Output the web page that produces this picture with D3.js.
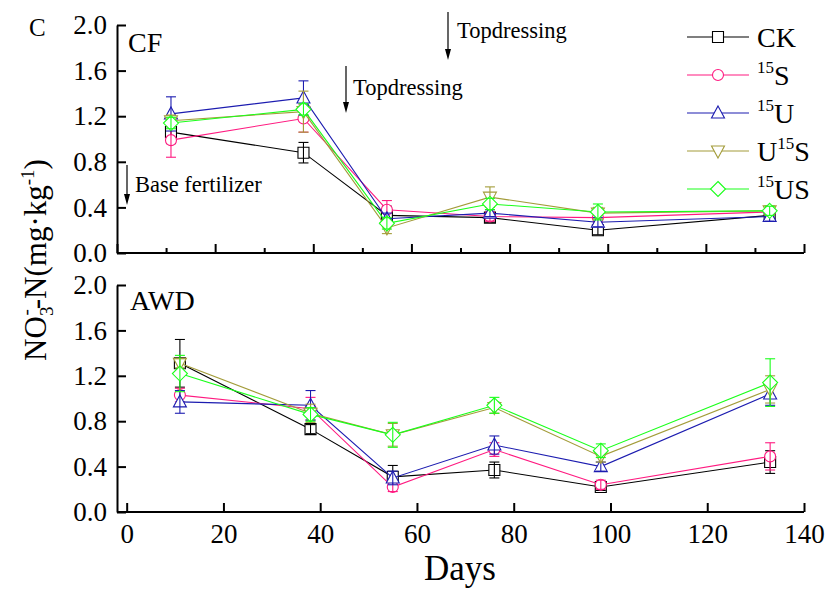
<!DOCTYPE html>
<html>
<head>
<meta charset="utf-8">
<script src="https://cdn.jsdelivr.net/npm/d3@7"></script>
<style>
  body { margin: 0; background: #fff; }
  svg text { font-family: "Liberation Serif", "Times New Roman", serif; fill: #000; }
</style>
</head>
<body>
<div id="chart"></div>
<script>
// Sampling days
const days = [11, 38, 55, 76, 98, 133];

// Treatments
const treatments = ["CK", "15S", "15U", "U15S", "15US"];

// CF panel values (mean, error)
const cfCK = [1.06, 0.88, 0.33, 0.31, 0.20, 0.33];
const cfCKErr = [0.10, 0.09, 0.08, 0.04, 0.04, 0.04];
const cf15S = [0.99, 1.18, 0.38, 0.32, 0.31, 0.36];
const cf15SErr = [0.15, 0.12, 0.08, 0.04, 0.04, 0.05];
const cf15U = [1.22, 1.36, 0.30, 0.35, 0.27, 0.32];
const cf15UErr = [0.15, 0.15, 0.05, 0.03, 0.04, 0.04];
const cfU15S = [1.16, 1.24, 0.22, 0.49, 0.35, 0.37];
const cfU15SErr = [0.05, 0.18, 0.05, 0.09, 0.05, 0.04];
const cf15US = [1.14, 1.26, 0.26, 0.43, 0.36, 0.37];
const cf15USErr = [0.05, 0.05, 0.05, 0.05, 0.07, 0.04];

// AWD panel values (mean, error)
const awdCK = [1.31, 0.73, 0.31, 0.37, 0.22, 0.44];
const awdCKErr = [0.21, 0.04, 0.10, 0.07, 0.03, 0.10];
const awd15S = [1.03, 0.91, 0.22, 0.55, 0.24, 0.49];
const awd15SErr = [0.06, 0.10, 0.04, 0.06, 0.04, 0.12];
const awd15U = [0.97, 0.94, 0.30, 0.59, 0.40, 1.04];
const awd15UErr = [0.10, 0.13, 0.06, 0.08, 0.04, 0.10];
const awdU15S = [1.31, 0.87, 0.68, 0.92, 0.49, 1.08];
const awdU15SErr = [0.04, 0.08, 0.10, 0.05, 0.05, 0.12];
const awd15US = [1.22, 0.86, 0.68, 0.94, 0.54, 1.14];
const awd15USErr = [0.16, 0.06, 0.11, 0.07, 0.06, 0.21];

// Axis ticks
const yTicks = [0, 0.4, 0.8, 1.2, 1.6, 2.0];
const xTicks = [0, 20, 40, 60, 80, 100, 120, 140];
const xMinorTicks = [10, 30, 50, 70, 90, 110, 130];

const colors = ["#000000", "#ff1a80", "#1c1cb0", "#a39c3a", "#1aff1a"];
const shapes = ["square", "circle", "triangle", "down", "diamond"];

const cfSeries = [[cfCK, cfCKErr], [cf15S, cf15SErr], [cf15U, cf15UErr], [cfU15S, cfU15SErr], [cf15US, cf15USErr]];
const awdSeries = [[awdCK, awdCKErr], [awd15S, awd15SErr], [awd15U, awd15UErr], [awdU15S, awdU15SErr], [awd15US, awd15USErr]];

const W = 829, H = 589;
const FONT = '"Liberation Serif", "Times New Roman", serif';
const svg = d3.select("#chart").append("svg")
    .attr("width", W)
    .attr("height", H)
    .attr("font-family", FONT);

// marker paths centred on 0,0
function markerPath(shape) {
    const p = d3.path();
    if (shape === "square") {
        p.rect(-5.5, -5.5, 11, 11);
    } else if (shape === "circle") {
        p.arc(0, 0, 5.5, 0, 2 * Math.PI);
    } else if (shape === "triangle") {
        p.moveTo(0, -7); p.lineTo(6.5, 5); p.lineTo(-6.5, 5); p.closePath();
    } else if (shape === "down") {
        p.moveTo(0, 7); p.lineTo(6.5, -5); p.lineTo(-6.5, -5); p.closePath();
    } else {
        p.moveTo(0, -7.5); p.lineTo(7.5, 0); p.lineTo(0, 7.5); p.lineTo(-7.5, 0); p.closePath();
    }
    return p.toString();
}

function drawPanel(series, x, y, minor) {
    const g = svg.append("g");

    // y axis, ticks inward
    g.append("g")
        .attr("transform", `translate(${x.range()[0]},0)`)
        .call(d3.axisLeft(y).tickValues(yTicks).tickSize(-9).tickSizeOuter(0)
            .tickPadding(10).tickFormat(d3.format(".1f")))
        .attr("font-family", FONT)
        .call(a => a.selectAll("text").style("font-size", "27px"))
        .call(a => a.selectAll("line,path").attr("stroke-width", 2));

    // x axis
    const xAxis = g.append("g")
        .attr("transform", `translate(0,${y.range()[0]})`);
    if (minor) {
        xAxis.call(d3.axisBottom(x).tickValues(xTicks.concat(xMinorTicks)).tickSize(-9)
            .tickSizeOuter(0).tickFormat(""));
        xAxis.selectAll(".tick line").attr("y2", d => xMinorTicks.includes(d) ? -5 : -9);
    } else {
        xAxis.call(d3.axisBottom(x).tickValues(xTicks).tickSize(-9).tickSizeOuter(0).tickPadding(12));
        xAxis.selectAll("text").style("font-size", "27px");
    }
    xAxis.attr("font-family", FONT);
    xAxis.selectAll("line,path").attr("stroke-width", 2);
    xAxis.select(".domain").attr("d", `M${x.range()[0]},0H${x.range()[1]}`);

    const line = d3.line().x(d => x(d[0])).y(d => y(d[1]));

    series.forEach((s, i) => {
        const pts = days.map((d, j) => [d, s[0][j], s[1][j]]);
        const sg = g.append("g");
        sg.append("path")
            .attr("d", line(pts))
            .attr("fill", "none")
            .attr("stroke", colors[i])
            .attr("stroke-width", 1.1);
        sg.selectAll(".mk")
            .data(pts)
            .enter()
            .append("path")
            .attr("transform", d => `translate(${x(d[0])},${y(d[1])})`)
            .attr("d", markerPath(shapes[i]))
            .attr("fill", "#fff")
            .attr("stroke", colors[i])
            .attr("stroke-width", 1.1);
        const eb = sg.selectAll(".eb")
            .data(pts)
            .enter()
            .append("g")
            .attr("stroke", colors[i])
            .attr("stroke-width", 1.1);
        eb.append("line")
            .attr("x1", d => x(d[0])).attr("x2", d => x(d[0]))
            .attr("y1", d => y(d[1] - d[2])).attr("y2", d => y(d[1] + d[2]));
        eb.append("line")
            .attr("x1", d => x(d[0]) - 5).attr("x2", d => x(d[0]) + 5)
            .attr("y1", d => y(d[1] + d[2])).attr("y2", d => y(d[1] + d[2]));
        eb.append("line")
            .attr("x1", d => x(d[0]) - 5).attr("x2", d => x(d[0]) + 5)
            .attr("y1", d => y(d[1] - d[2])).attr("y2", d => y(d[1] - d[2]));
    });
    return g;
}

// Scales
const xTop = d3.scaleLinear().domain([0, 140]).range([117, 804]);
const yTop = d3.scaleLinear().domain([0, 2]).range([253, 25]);
const xBot = d3.scaleLinear().domain([-2, 140]).range([117, 804]);
const yBot = d3.scaleLinear().domain([0, 2]).range([512, 285]);

drawPanel(cfSeries, xTop, yTop, true);
drawPanel(awdSeries, xBot, yBot, false);

// Panel labels
svg.append("text").attr("x", 29).attr("y", 36).style("font-size", "25px").text("C");
svg.append("text").attr("x", 128).attr("y", 52).style("font-size", "28px").text("CF");
svg.append("text").attr("x", 130).attr("y", 310).style("font-size", "28px").text("AWD");

// Annotations with arrows
const notes = [
    { x: 127, y1: 165, y2: 205, tx: 135, ty: 192, label: "Base fertilizer" },
    { x: 346, y1: 66, y2: 113, tx: 353, ty: 95, label: "Topdressing" },
    { x: 448, y1: 12, y2: 60, tx: 457, ty: 38, label: "Topdressing" }
];
notes.forEach(n => {
    svg.append("line")
        .attr("x1", n.x).attr("x2", n.x)
        .attr("y1", n.y1).attr("y2", n.y2 - 8)
        .attr("stroke", "#000").attr("stroke-width", 1.2);
    svg.append("path")
        .attr("d", `M${n.x - 3},${n.y2 - 11}L${n.x + 3},${n.y2 - 11}L${n.x},${n.y2}Z`)
        .attr("fill", "#000");
    svg.append("text").attr("x", n.tx).attr("y", n.ty)
        .style("font-size", "22.5px").text(n.label);
});

// Legend
treatments.forEach((t, i) => {
    const ly = 37 + i * 38;
    svg.append("line")
        .attr("x1", 687).attr("x2", 749)
        .attr("y1", ly).attr("y2", ly)
        .attr("stroke", colors[i]).attr("stroke-width", 1.1);
    svg.append("path")
        .attr("transform", `translate(718,${ly})`)
        .attr("d", markerPath(shapes[i]))
        .attr("fill", "#fff")
        .attr("stroke", colors[i])
        .attr("stroke-width", 1.1);
    const txt = svg.append("text").attr("x", 757).attr("y", ly + 10).style("font-size", "28px");
    // split "15" into superscript
    const parts = t.split(/(15)/).filter(p => p !== "");
    let prevSup = false;
    parts.forEach(p => {
        if (p === "15") {
            txt.append("tspan").style("font-size", "17px").attr("dy", -12).text(p);
            prevSup = true;
        } else {
            txt.append("tspan").attr("dy", prevSup ? 12 : 0).text(p);
            prevSup = false;
        }
    });
});

// Y axis title
const yl = svg.append("text")
    .attr("transform", "translate(46,260) rotate(-90)")
    .attr("text-anchor", "middle")
    .style("font-size", "31px");
yl.append("tspan").text("NO");
yl.append("tspan").style("font-size", "19px").attr("dy", 7).text("3");
yl.append("tspan").style("font-size", "19px").attr("dx", -9).attr("dy", -21).text("-");
yl.append("tspan").attr("dy", 14).text("-N(mg·kg");
yl.append("tspan").style("font-size", "19px").attr("dy", -12).text("-1");
yl.append("tspan").attr("dy", 12).text(")");

// X axis title
svg.append("text")
    .attr("x", 460).attr("y", 580)
    .attr("text-anchor", "middle")
    .style("font-size", "35px")
    .text("Days");
</script>
</body>
</html>
